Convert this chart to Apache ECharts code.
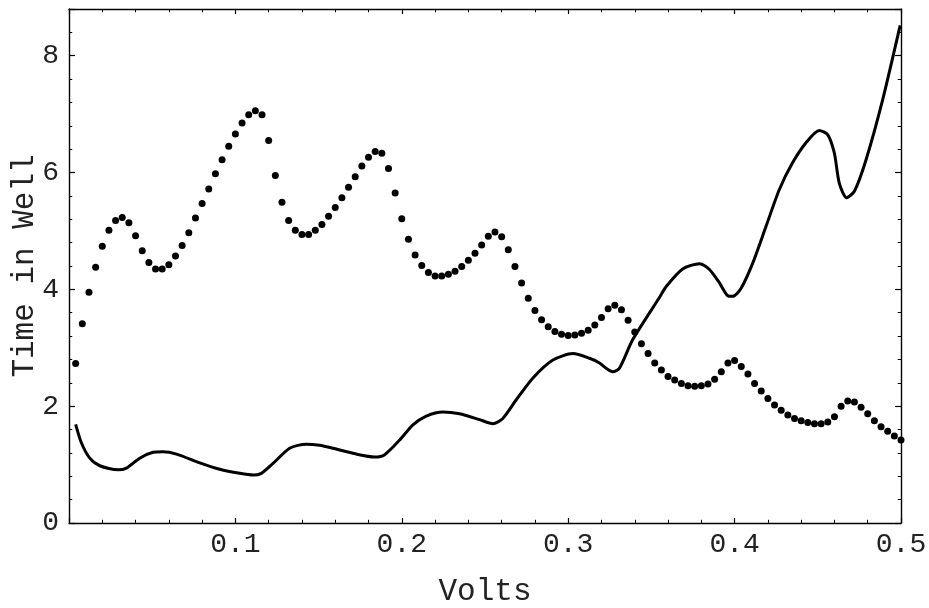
<!DOCTYPE html>
<html>
<head>
<meta charset="utf-8">
<script src="https://cdn.jsdelivr.net/npm/echarts@6/dist/echarts.min.js"></script>
<style>
  html, body { margin: 0; padding: 0; background: #fff; }
  #chart { width: 929px; height: 608px; }
</style>
</head>
<body>
<div id="chart"></div>
<script>
// solid curve
const lineX = [0.004, 0.0075, 0.0125, 0.0185, 0.0295, 0.0345, 0.0425, 0.0505, 0.0565, 0.0646,
  0.0786, 0.0906, 0.1026, 0.1106, 0.1156, 0.1226, 0.1326, 0.1426, 0.1506, 0.1586,
  0.1727, 0.1837, 0.1897, 0.1987, 0.2067, 0.2147, 0.2247, 0.2347, 0.2467, 0.2547,
  0.2607, 0.2688, 0.2787, 0.2908, 0.3028, 0.3128, 0.3188, 0.3228, 0.3268, 0.3308,
  0.3388, 0.3548, 0.3589, 0.3688, 0.3789, 0.3849, 0.3909, 0.3959, 0.3989, 0.4039,
  0.4109, 0.4189, 0.4269, 0.4349, 0.4429, 0.4509, 0.4559, 0.4599, 0.4629, 0.4673,
  0.4720, 0.4790, 0.4890, 0.4995];
const lineY = [1.69, 1.37, 1.11, 0.98, 0.91, 0.94, 1.11, 1.21, 1.22, 1.18,
  1.03, 0.92, 0.85, 0.82, 0.85, 1.02, 1.28, 1.35, 1.33, 1.28,
  1.18, 1.13, 1.17, 1.42, 1.68, 1.83, 1.90, 1.87, 1.77, 1.70,
  1.79, 2.11, 2.48, 2.79, 2.90, 2.82, 2.74, 2.65, 2.59, 2.65,
  3.14, 3.86, 4.05, 4.35, 4.44, 4.34, 4.11, 3.89, 3.88, 4.02,
  4.45, 5.08, 5.71, 6.17, 6.51, 6.72, 6.65, 6.34, 5.82, 5.57,
  5.68, 6.22, 7.25, 8.52];

// dotted series, sampled every 0.004 V starting at 0.004
const dotStart = 0.004;
const dotStep = 0.004;
const dotY = [2.73, 3.41, 3.95, 4.38, 4.74, 5.01, 5.18, 5.23, 5.14, 4.92,
  4.66, 4.46, 4.35, 4.35, 4.42, 4.57, 4.75, 4.97, 5.22, 5.47,
  5.72, 5.98, 6.22, 6.45, 6.66, 6.85, 6.99, 7.06, 6.99, 6.55,
  5.95, 5.49, 5.18, 5.01, 4.94, 4.94, 5.01, 5.11, 5.25, 5.40,
  5.57, 5.75, 5.93, 6.11, 6.26, 6.36, 6.33, 6.07, 5.65, 5.21,
  4.86, 4.59, 4.41, 4.29, 4.23, 4.23, 4.26, 4.31, 4.39, 4.50,
  4.62, 4.76, 4.91, 4.98, 4.90, 4.68, 4.39, 4.11, 3.85, 3.64,
  3.48, 3.36, 3.28, 3.23, 3.21, 3.22, 3.25, 3.30, 3.39, 3.52,
  3.67, 3.73, 3.65, 3.47, 3.27, 3.07, 2.90, 2.74, 2.62, 2.51,
  2.45, 2.39, 2.35, 2.34, 2.35, 2.38, 2.46, 2.59, 2.74, 2.78,
  2.68, 2.55, 2.39, 2.26, 2.13, 2.02, 1.93, 1.85, 1.79, 1.75,
  1.72, 1.70, 1.70, 1.73, 1.82, 2.00, 2.09, 2.07, 1.98, 1.87,
  1.75, 1.65, 1.57, 1.49, 1.42];

const xTicks = [0, 0.5, 0.1];   // min, max, step
const yTicks = [0, 8.8, 2];

const font = "'Liberation Mono', 'DejaVu Sans Mono', monospace";
const ink = "#000";
const textInk = "#222";

const chart = echarts.init(document.getElementById("chart"));

function frameAxis(pos, isX, main) {
  const t = isX ? xTicks : yTicks;
  return {
    type: "value",
    position: pos,
    min: t[0],
    max: t[1],
    interval: t[2],
    axisLine: { show: true, onZero: false, lineStyle: { color: ink, width: 1.4 } },
    axisTick: { show: true, inside: true, length: isX ? 5 : 6, lineStyle: { color: ink, width: 1.2 } },
    minorTick: { show: true, splitNumber: 5, length: 3.2, lineStyle: { color: ink, width: 1 } },
    splitLine: { show: false },
    axisLabel: {
      show: main,
      fontFamily: font,
      fontSize: 28,
      color: textInk,
      margin: isX ? 8 : 10,
      showMaxLabel: isX,
      formatter: function (v) {
        if (isX) return v === 0 ? "" : v.toFixed(1);
        return String(Math.round(v));
      },
    },
  };
}

const xMain = Object.assign(frameAxis("bottom", true, true), {
  name: "Volts",
  nameLocation: "middle",
  nameGap: 53,
  nameMoveOverlap: false,
  nameTextStyle: { fontFamily: font, fontSize: 31, color: textInk },
});
const yMain = Object.assign(frameAxis("left", false, true), {
  name: "Time in Well",
  nameLocation: "middle",
  nameGap: 29,
  nameMoveOverlap: false,
  nameTextStyle: { fontFamily: font, fontSize: 31, color: textInk },
});

const option = {
  animation: false,
  grid: {
    left: 69,
    right: 28,
    top: 9,
    bottom: 85,
    containLabel: false,
    outerBoundsMode: "none",
  },
  xAxis: [xMain, frameAxis("top", true, false)],
  yAxis: [yMain, frameAxis("right", false, false)],
  series: [
    {
      name: "curve",
      type: "line",
      xAxisIndex: 0,
      yAxisIndex: 0,
      data: lineX.map((x, i) => [x, lineY[i]]),
      showSymbol: false,
      smooth: 0.25,
      lineStyle: { color: ink, width: 3 },
    },
    {
      name: "dots",
      type: "scatter",
      xAxisIndex: 0,
      yAxisIndex: 0,
      data: dotY.map((y, i) => [dotStart + i * dotStep, y]),
      symbol: "circle",
      symbolSize: 7,
      itemStyle: { color: ink, opacity: 1 },
    },
  ],
};

chart.setOption(option);
</script>
</body>
</html>
